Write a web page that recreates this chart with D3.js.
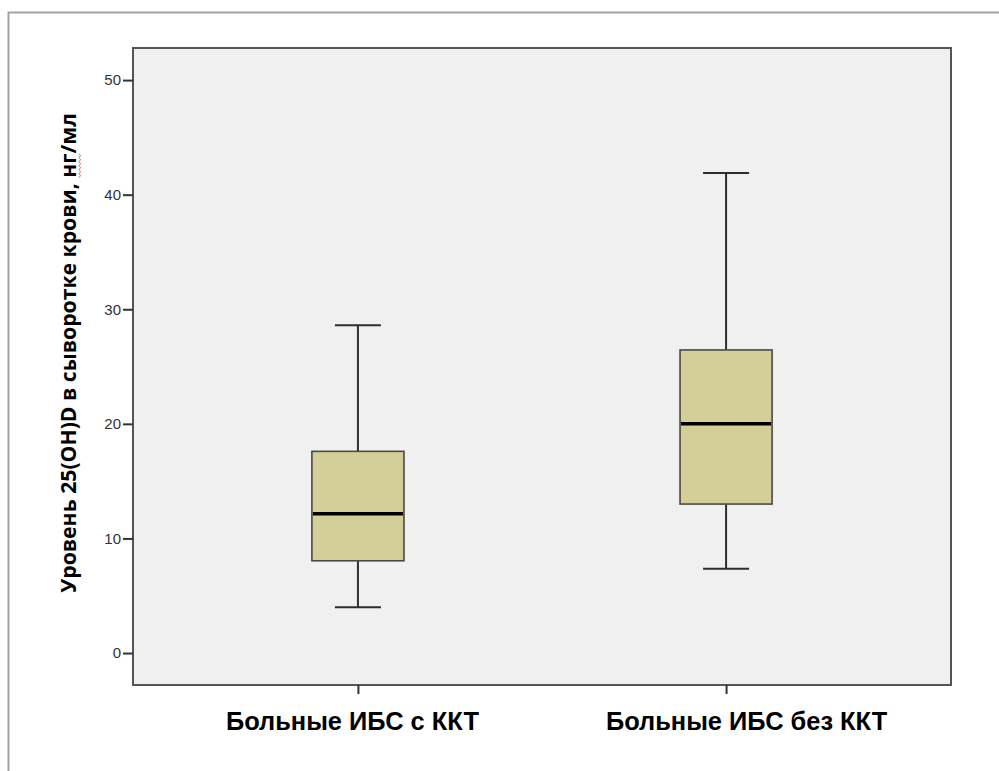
<!DOCTYPE html>
<html>
<head>
<meta charset="utf-8">
<script src="https://cdn.jsdelivr.net/npm/d3@7/dist/d3.min.js"></script>
<style>
  html, body { margin: 0; padding: 0; background: #ffffff; }
  svg { display: block; }
</style>
</head>
<body>
<svg id="chart" width="999" height="771"></svg>
<script>
// Serum 25(OH)D by patient group: five-number summaries per box
const categories = ["Больные ИБС с ККТ", "Больные ИБС без ККТ"];
const whiskerLow  = [4.0, 7.35];
const q1          = [8.05, 13.0];
const median      = [12.15, 20.0];
const q3          = [17.6, 26.45];
const whiskerHigh = [28.6, 41.9];
const yTicks = [0, 10, 20, 30, 40, 50];
const yTitle = "Уровень 25(OH)D в сыворотке крови, нг/мл";

const svg = d3.select("#chart");
const plot = { left: 133, top: 48, right: 951, bottom: 685 };

// outer frame
svg.append("rect")
  .attr("x", 8.5).attr("y", 12.5)
  .attr("width", 1010).attr("height", 800)
  .attr("fill", "#ffffff")
  .attr("stroke", "#a3a3a3").attr("stroke-width", 2);

const x = d3.scalePoint()
  .domain(categories)
  .range([plot.left, plot.right])
  .padding(0.611);

const y = d3.scaleLinear()
  .domain([-2.79, 52.8])
  .range([plot.bottom, plot.top]);

// plot background
svg.append("rect")
  .attr("x", plot.left).attr("y", plot.top)
  .attr("width", plot.right - plot.left).attr("height", plot.bottom - plot.top)
  .attr("fill", "#f0f0f0");

const boxW = x.step() * 0.25;
const capW = boxW * 0.5;

const data = categories.map((c, i) => ({
  c, lo: whiskerLow[i], q1: q1[i], med: median[i], q3: q3[i], hi: whiskerHigh[i]
}));

const g = svg.append("g");
const boxes = g.selectAll("g.box").data(data).join("g").attr("class", "box");

// whisker stems
boxes.append("line")
  .attr("x1", d => x(d.c)).attr("x2", d => x(d.c))
  .attr("y1", d => y(d.hi)).attr("y2", d => y(d.q3))
  .attr("stroke", "#2e2e2e").attr("stroke-width", 2);
boxes.append("line")
  .attr("x1", d => x(d.c)).attr("x2", d => x(d.c))
  .attr("y1", d => y(d.q1)).attr("y2", d => y(d.lo))
  .attr("stroke", "#2e2e2e").attr("stroke-width", 2);
// whisker caps
["hi", "lo"].forEach(k => {
  boxes.append("line")
    .attr("x1", d => x(d.c) - capW / 2).attr("x2", d => x(d.c) + capW / 2)
    .attr("y1", d => y(d[k])).attr("y2", d => y(d[k]))
    .attr("stroke", "#2e2e2e").attr("stroke-width", 2);
});
// box
boxes.append("rect")
  .attr("x", d => x(d.c) - boxW / 2)
  .attr("y", d => y(d.q3))
  .attr("width", boxW)
  .attr("height", d => y(d.q1) - y(d.q3))
  .attr("fill", "#d4cf99")
  .attr("stroke", "#4a4a40").attr("stroke-width", 1.6);
// median
boxes.append("line")
  .attr("x1", d => x(d.c) - boxW / 2 + 1).attr("x2", d => x(d.c) + boxW / 2 - 1)
  .attr("y1", d => y(d.med)).attr("y2", d => y(d.med))
  .attr("stroke", "#000000").attr("stroke-width", 3.5);

// plot border
svg.append("rect")
  .attr("x", plot.left).attr("y", plot.top)
  .attr("width", plot.right - plot.left).attr("height", plot.bottom - plot.top)
  .attr("fill", "none")
  .attr("stroke", "#555555").attr("stroke-width", 2);

// y axis
const yAxis = svg.append("g")
  .attr("transform", `translate(${plot.left},0)`)
  .call(d3.axisLeft(y).tickValues(yTicks).tickSize(10).tickPadding(2).tickFormat(d3.format("d")));
yAxis.select(".domain").remove();
yAxis.selectAll(".tick line").attr("stroke", "#333333").attr("stroke-width", 2);
yAxis.selectAll(".tick text")
  .attr("fill", "#333333")
  .style("font-family", "'Liberation Sans', Arial, sans-serif")
  .style("font-size", "15px");

// x axis; category labels sit slightly off their ticks
const labelShift = [-6, 20];
const xAxis = svg.append("g")
  .attr("transform", `translate(0,${plot.bottom})`)
  .call(d3.axisBottom(x).tickSize(9).tickPadding(18));
xAxis.select(".domain").remove();
xAxis.selectAll(".tick line").attr("stroke", "#333333").attr("stroke-width", 2);
xAxis.selectAll(".tick text")
  .attr("dx", (d, i) => labelShift[i])
  .attr("fill", "#000000")
  .style("font-family", "'Liberation Sans', Arial, sans-serif")
  .style("font-weight", "bold")
  .style("font-size", "25.4px");

// y title
const titleG = svg.append("g")
  .attr("transform", `translate(76,353) rotate(-90)`);
const title = titleG.append("text")
  .attr("text-anchor", "middle")
  .attr("x", 0).attr("y", 0)
  .style("font-family", "'Open Sans', 'Noto Sans', sans-serif")
  .style("font-weight", "bold")
  .style("font-size", "21.2px")
  .attr("fill", "#000000")
  .text(yTitle);

// spell-check squiggle under "нг"
const node = title.node();
const idx = yTitle.indexOf("нг");
const sx = node.getStartPositionOfChar(idx).x;
const ex = node.getEndPositionOfChar(idx + 1).x;
const pts = [];
for (let px = sx, k = 0; px <= ex; px += 2, k++) pts.push([px, 3 + (k % 2 ? 1.5 : 0)]);
titleG.append("path")
  .attr("d", d3.line()(pts))
  .attr("fill", "none")
  .attr("stroke", "#e06060").attr("stroke-width", 1);
</script>
</body>
</html>
